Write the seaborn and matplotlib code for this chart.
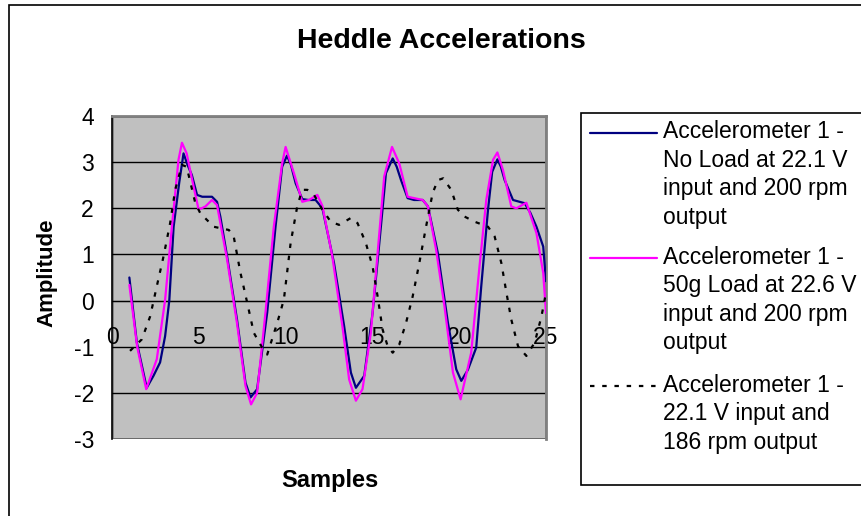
import matplotlib
matplotlib.use("Agg")
import matplotlib.pyplot as plt
import matplotlib.patches as mpatches
import matplotlib.lines as mlines
import seaborn as sns
import pandas as pd

# --- data ---
no_load_x = [1.0, 1.43, 2.0, 2.39, 2.77, 3.06, 3.3, 3.55, 3.87, 4.12, 4.35, 4.6, 4.9, 5.2, 5.76, 6.05,
             6.24, 6.63, 7.2, 7.69, 7.98, 8.36, 8.94, 9.42, 9.8, 10.08, 10.3, 10.58, 10.96, 11.3, 11.73,
             12.12, 12.79, 13.37, 13.76, 14.05, 14.53, 15.01, 15.4, 15.78, 16.17, 16.4, 16.65, 17.03,
             17.4, 17.9, 18.2, 18.77, 19.35, 19.83, 20.12, 20.5, 20.98, 21.27, 21.66, 21.9, 22.2, 22.4,
             22.62, 23.1, 23.77, 24.1, 24.45, 24.84, 25.0]
no_load_y = [0.5, -0.91, -1.89, -1.63, -1.34, -0.77, 0.0, 1.6, 2.55, 3.19, 2.94, 2.72, 2.29, 2.25, 2.25, 2.14,
             1.82, 0.96, -0.41, -1.78, -2.1, -1.92, -0.26, 1.6, 2.9, 3.14, 2.95, 2.54, 2.2, 2.18, 2.18,
             2.0, 0.81, -0.55, -1.56, -1.89, -1.63, -0.27, 1.25, 2.76, 3.08, 2.9, 2.61, 2.22,
             2.18, 2.18, 2.04, 1.03, -0.48, -1.49, -1.74, -1.5, -1.02, 0.31, 1.97, 2.79, 3.06, 2.9,
             2.61, 2.18, 2.11, 1.9, 1.6, 1.17, 0.42]

load_x = [1.0, 1.45, 1.97, 2.58, 3.06, 3.45, 3.83, 4.03, 4.3, 4.7, 4.99, 5.38, 5.76, 6.05, 6.63, 7.2,
          7.69, 8.01, 8.36, 8.84, 9.32, 9.8, 10.0, 10.48, 10.96, 11.35, 11.83, 12.12, 12.69, 13.27,
          13.66, 14.05, 14.43, 14.91, 15.3, 15.68, 16.13, 16.55, 17.03, 17.9, 18.2, 18.67, 19.15,
          19.64, 20.08, 20.69, 21.17, 21.56, 21.95, 22.2, 22.52, 23.0, 23.29, 23.87, 24.45, 24.84, 25.0]
load_y = [0.34, -1.0, -1.92, -1.27, 0.02, 1.6, 3.05, 3.42, 3.19, 2.47, 1.97, 2.04, 2.18, 2.07, 0.89, -0.49,
          -1.85, -2.25, -2.0, -0.26, 1.6, 2.97, 3.33, 2.76, 2.14, 2.18, 2.29, 2.05, 0.96, -0.55,
          -1.71, -2.17, -1.92, -0.7, 1.03, 2.69, 3.33, 2.97, 2.25, 2.18, 2.04, 1.1, -0.12,
          -1.56, -2.14, -1.13, 0.74, 2.18, 3.05, 3.21, 2.83, 2.04, 2.0, 2.12, 1.46, 0.6, -0.27]

slow_x = [1.04, 1.72, 2.2, 2.58, 2.97, 3.35, 3.64, 4.03, 4.3, 4.8, 5.09, 5.86, 6.73, 7.01, 7.4, 7.79,
          8.17, 8.65, 8.94, 9.52, 9.9, 10.29, 10.67, 10.96, 11.25, 11.64, 12.12, 12.6, 13.08, 13.76,
          14.14, 14.62, 15.01, 15.3, 15.59, 15.88, 16.17, 16.55, 16.94, 17.32, 17.7, 18.09, 18.47,
          18.77, 19.08, 19.54, 19.92, 20.31, 20.88, 21.66, 22.04, 22.43, 22.72, 23.0, 23.39, 23.87,
          24.35, 24.74, 25.0]
slow_y = [-1.09, -0.84, -0.34, 0.31, 0.96, 1.68, 2.4, 2.94, 2.9, 2.11, 1.89, 1.6, 1.53, 1.39, 0.6, -0.05,
          -0.7, -1.02, -1.17, -0.48, 0.02, 1.25, 2.04, 2.4, 2.4, 2.29, 1.97, 1.71, 1.64, 1.79,
          1.68, 1.25, 0.74, 0.09, -0.63, -0.99, -1.13, -0.95, -0.48, 0.09, 0.81, 1.6, 2.33,
          2.61, 2.65, 2.4, 1.97, 1.82, 1.71, 1.6, 1.39, 0.81, 0.17, -0.41, -0.99, -1.2,
          -0.91, -0.34, 0.17]

series_labels = [
    ["Accelerometer 1 -", "No Load at 22.1 V", "input and 200 rpm", "output"],
    ["Accelerometer 1 -", "50g Load at 22.6 V", "input and 200 rpm", "output"],
    ["Accelerometer 1 -", "22.1 V input and", "186 rpm output"],
]
y_ticks = [-3, -2, -1, 0, 1, 2, 3, 4]
x_ticks = [0, 5, 10, 15, 20, 25]

sns.set_style("white")
plt.rcParams["font.family"] = ["Liberation Sans", "DejaVu Sans"]
plt.rcParams["axes.unicode_minus"] = False
plt.rcParams["text.color"] = "black"
plt.rcParams["xtick.color"] = "black"
plt.rcParams["ytick.color"] = "black"

W, H = 861, 516
fig = plt.figure(figsize=(W / 100, H / 100), dpi=100)


def fx(px):
    return px / W


def fy(py):
    return 1 - py / H


ax = fig.add_axes([fx(112), fy(439), fx(546) - fx(112), fy(116) - fy(439)])
ax.set_facecolor("#C0C0C0")

colors = ["#000080", "#FF00FF", "black"]
styles = ["-", "-", (0, (2, 3.5))]
frames = [pd.DataFrame({"x": no_load_x, "y": no_load_y}),
          pd.DataFrame({"x": load_x, "y": load_y}),
          pd.DataFrame({"x": slow_x, "y": slow_y})]

for t in y_ticks:
    ax.axhline(t, color="black", lw=1, zorder=1)

for df, c, ls in zip(frames, colors, styles):
    sns.lineplot(data=df, x="x", y="y", ax=ax, sort=False, estimator=None,
                 color=c, lw=1.6, zorder=3, linestyle=ls)

ax.set_xlim(0, 25)
ax.set_ylim(-3, 4)
ax.set_xticks(x_ticks)
ax.set_yticks(y_ticks)
ax.set_xlabel("")
ax.set_ylabel("")
ax.tick_params(axis="both", labelsize=16.5, length=6, width=1, color="black", direction="out")
ax.tick_params(axis="x", pad=12)
ax.tick_params(axis="y", pad=7)

ax.spines["bottom"].set_position(("data", 0))
ax.spines["bottom"].set_color("black")
ax.spines["bottom"].set_zorder(2)
ax.spines["left"].set_color("black")
ax.spines["left"].set_linewidth(1.2)
for s in ["top", "right"]:
    ax.spines[s].set_visible(True)
    ax.spines[s].set_color("#808080")
    ax.spines[s].set_linewidth(2)
# gray bottom edge of the plot area
ax.add_patch(mpatches.Rectangle((0, 0), 1, 1, transform=ax.transAxes, fill=False,
                                edgecolor="#808080", lw=2, zorder=0.5))

# outer chart border
fig.add_artist(mpatches.Rectangle((fx(9), fy(530)), 1.2, fy(5) - fy(530), transform=fig.transFigure,
                                  fill=False, edgecolor="black", lw=1.2))

fig.text(fx(441), fy(41), "Heddle Accelerations", ha="center", va="center",
         fontsize=20.5, fontweight="bold")
fig.text(fx(47), fy(273), "Amplitude", ha="center", va="center", rotation=90,
         fontsize=16, fontweight="bold")
fig.text(fx(329.5), fy(480), "Samples", ha="center", va="center",
         fontsize=17, fontweight="bold")

# legend box drawn to match the Excel layout
fig.add_artist(mpatches.Rectangle((fx(581), fy(485)), 0.5, fy(113) - fy(485), transform=fig.transFigure,
                                  facecolor="white", edgecolor="black", lw=1.2))
entry_tops = [132, 257, 385]
for lines, top, c, ls in zip(series_labels, entry_tops, colors, styles):
    fig.add_artist(mlines.Line2D([fx(590), fx(657)], [fy(top + 1), fy(top + 1)],
                                 transform=fig.transFigure, color=c, lw=1.6, linestyle=ls))
    for i, line in enumerate(lines):
        fig.text(fx(663), fy(top + i * 28.5), line, ha="left", va="center", fontsize=16.5)

fig.savefig("out.png", dpi=100)
